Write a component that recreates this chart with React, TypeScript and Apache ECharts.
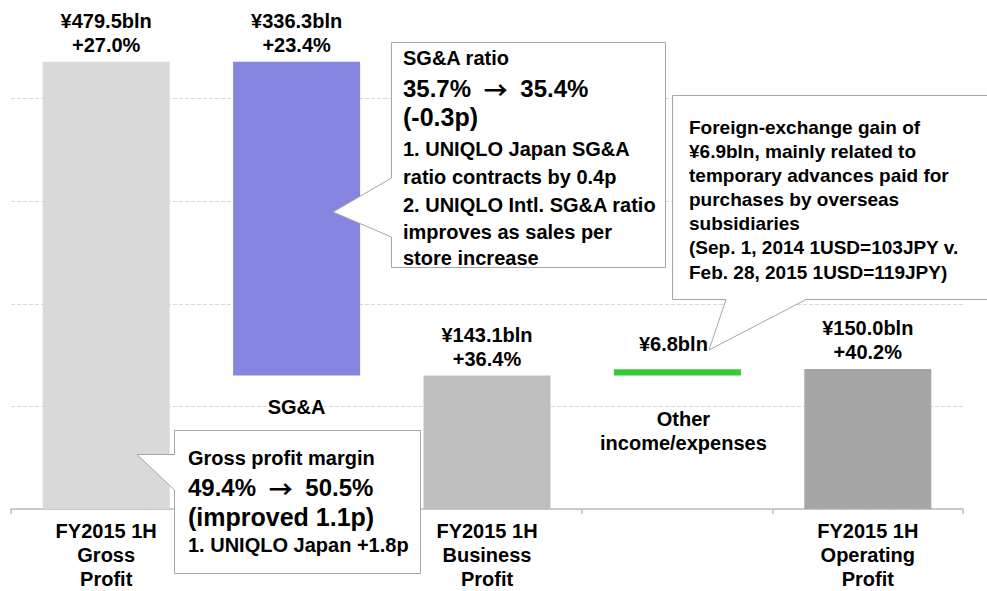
import React, { useEffect, useRef } from "react";
import * as echarts from "echarts";

// ---- data ----
const categories = [
  "FY2015 1H\nGross\nProfit",
  "SG&A",
  "FY2015 1H\nBusiness\nProfit",
  "Other\nincome/expenses",
  "FY2015 1H\nOperating\nProfit",
];
const values = [479.5, 336.3, 143.1, 6.8, 150.0];
const growth = ["+27.0%", "+23.4%", "+36.4%", "", "+40.2%"];
const kinds = ["total", "decrease", "total", "increase", "total"];

const sgaNote = [
  "SG&A ratio",
  "{n|35.7% }{a|→}{n| 35.4%}",
  "(-0.3p)",
  "1. UNIQLO Japan SG&A",
  "ratio contracts by 0.4p",
  "2. UNIQLO Intl. SG&A ratio",
  "improves as sales per",
  "store increase",
];
const fxNote = [
  "Foreign-exchange gain of",
  "¥6.9bln, mainly related to",
  "temporary advances paid for",
  "purchases by overseas",
  "subsidiaries",
  "(Sep. 1, 2014 1USD=103JPY v.",
  "Feb. 28, 2015 1USD=119JPY)",
];
const gpNote = [
  "Gross profit margin",
  "{n|49.4% }{a|→}{n| 50.5%}",
  "(improved 1.1p)",
  "1. UNIQLO Japan +1.8p",
];

// waterfall bases derived from the values
const bases: number[] = [];
{
  let running = 0;
  values.forEach((v, i) => {
    if (kinds[i] === "total") {
      bases.push(0);
      running = v;
    } else if (kinds[i] === "decrease") {
      running = running - v;
      bases.push(running);
    } else {
      bases.push(running);
      running = running + v;
    }
  });
}

const FONT = '"Liberation Sans", Arial, Helvetica, sans-serif';
const barColors = ["#d9d9d9", "#8686e0", "#bfbfbf", "#33cc33", "#a6a6a6"];
const SHIFT = 4; // chart div is placed 4px above the page top

function callout(points: number[][], x: number, lines: string[], ys: number[], sizes: number[]) {
  const children: any[] = [
    {
      type: "polygon",
      shape: { points },
      style: { fill: "#ffffff", stroke: "#a6a6a6", lineWidth: 1 },
      z: 100,
    },
  ];
  lines.forEach((t, i) => {
    children.push({
      type: "text",
      x,
      y: ys[i],
      z: 101,
      style: {
        text: t,
        fill: "#000000",
        fontFamily: FONT,
        fontWeight: "bold",
        fontSize: sizes[i],
        align: "left",
        verticalAlign: "middle",
        rich: {
          n: { fontFamily: FONT, fontWeight: "bold", fontSize: sizes[i], fill: "#000000" },
          a: {
            fontFamily: '"Noto Sans CJK JP", "DejaVu Sans", sans-serif',
            fontWeight: "bold",
            fontSize: sizes[i],
            fill: "#000000",
            padding: [0, 6],
          },
        },
      },
    });
  });
  return { type: "group", x: 0, y: SHIFT, children };
}

export default function App() {
  const ref = useRef<HTMLDivElement>(null);
  useEffect(() => {
    if (!ref.current) return;
    const chart = echarts.init(ref.current, null, { renderer: "svg" });
    const option: any = {
      animation: false,
      backgroundColor: "#ffffff",
      grid: { left: 11, right: 24, top: 0, bottom: 81, containLabel: false },
      xAxis: {
        type: "category",
        data: categories,
        axisLine: { show: true, lineStyle: { color: "#bfbfbf", width: 1.5 } },
        axisTick: { show: true, length: 5, interval: 0, lineStyle: { color: "#bfbfbf", width: 1.5 } },
        axisLabel: {
          interval: 0,
          margin: 10,
          color: "#000000",
          fontFamily: FONT,
          fontWeight: "bold",
          fontSize: 20,
          lineHeight: 24,
          formatter: (v: string, i: number) => (kinds[i] === "total" ? v : ""),
        },
      },
      yAxis: {
        type: "value",
        min: 0,
        max: 550,
        interval: 110,
        axisLabel: { show: false },
        axisLine: { show: false },
        axisTick: { show: false },
        splitLine: { show: true, lineStyle: { color: "#d9d9d9", type: [4, 2], width: 1 } },
      },
      series: [
        {
          name: "base",
          type: "bar",
          stack: "wf",
          barWidth: 127,
          silent: true,
          itemStyle: { color: "transparent" },
          data: bases.map((b, i) => ({
            value: b,
            label:
              kinds[i] === "decrease"
                ? { distance: 20 }
                : kinds[i] === "increase"
                ? { distance: 31, offset: [6, 0] }
                : {},
          })),
          label: {
            show: true,
            position: "insideTop",
            color: "#000000",
            fontFamily: FONT,
            fontWeight: "bold",
            fontSize: 20,
            lineHeight: 24,
            align: "center",
            formatter: (p: any) => (kinds[p.dataIndex] !== "total" ? categories[p.dataIndex] : ""),
          },
        },
        {
          name: "value",
          type: "bar",
          stack: "wf",
          barWidth: 127,
          silent: true,
          data: values.map((v, i) => ({
            value: v,
            itemStyle: { color: barColors[i] },
            label: kinds[i] === "increase" ? { distance: 13, offset: [-4, 0] } : {},
          })),
          label: {
            show: true,
            position: "top",
            distance: 5,
            color: "#000000",
            fontFamily: FONT,
            fontWeight: "bold",
            fontSize: 20,
            lineHeight: 24,
            align: "center",
            formatter: (p: any) => {
              const i = p.dataIndex;
              const main = "¥" + values[i].toFixed(1) + "bln";
              return growth[i] ? main + "\n" + growth[i] : main;
            },
          },
        },
      ],
      graphic: [
        callout(
          [[391.5, 42.5], [665.5, 42.5], [665.5, 267.5], [391.5, 267.5], [391.5, 237], [333, 212], [391.5, 178]],
          403,
          sgaNote,
          [58, 88, 117, 149, 177, 205, 232, 258],
          [20, 24, 25, 20, 20, 20, 20, 20]
        ),
        callout(
          [[672.5, 95.5], [995, 95.5], [995, 299.5], [806, 299.5], [709, 350], [726, 299.5], [672.5, 299.5]],
          689,
          fxNote,
          [127, 151, 175, 199, 223, 247, 272],
          [19, 19, 19, 19, 19, 19, 19]
        ),
        callout(
          [[174.5, 430.5], [420.5, 430.5], [420.5, 573.5], [174.5, 573.5], [174.5, 490], [137, 454.5], [174.5, 454.5]],
          188,
          gpNote,
          [458, 487, 517, 545],
          [20, 24, 25, 20]
        ),
      ],
    };
    chart.setOption(option);
    return () => chart.dispose();
  }, []);
  return (
    <div
      ref={ref}
      style={{ position: "fixed", left: 0, top: -SHIFT, width: 987, height: 591 + SHIFT, background: "#fff" }}
    />
  );
}
